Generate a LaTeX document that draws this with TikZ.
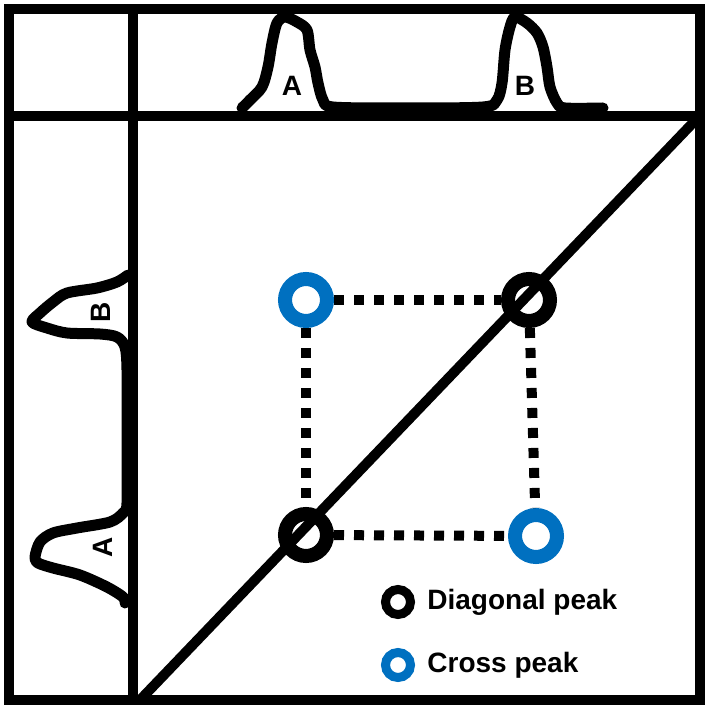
\documentclass[tikz,border=0pt]{standalone}
\usepackage{fontspec}
\setmainfont{Liberation Sans}
\usepackage{xcolor}
\usepackage{tikz}
\usetikzlibrary{positioning,shapes}

\definecolor{crossblue}{RGB}{0,112,192}

\begin{document}
\begin{tikzpicture}[x=0.5pt, y=-0.5pt,
  frameline/.style={line width=5pt},
  peakline/.style={line width=5.5pt, line cap=round, line join=round},
  peaklabel/.style={font=\fontsize{14}{16}\selectfont\bfseries, inner sep=0pt},
  diagring/.style={circle, draw=black, fill=white, line width=7pt, minimum size=21pt, inner sep=0pt},
  crossring/.style={circle, draw=crossblue, fill=white, line width=7pt, minimum size=21pt, inner sep=0pt},
  dotline/.style={line width=5pt, dash pattern=on 5pt off 5pt},
  legring/.style={circle, fill=white, line width=4.5pt, minimum size=12.5pt, inner sep=0pt},
  legtext/.style={font=\fontsize{14}{16}\selectfont\bfseries, inner sep=0pt, anchor=west}]
  \useasboundingbox (0,0) rectangle (709,710);
  % Frame
  \draw[frameline] (9,9.5) rectangle (699.5,700);
  \draw[frameline] (9,116) -- (699.5,116);
  \draw[frameline] (133,9.5) -- (133,700);
  % Spectra
  \draw[peakline] plot[smooth, tension=0.5] coordinates {
    (242,108) (250,100) (262,87) (268,67) (272,43) (277,23) (285,17)
    (297,22) (307,30) (310,50) (315,67) (318,83) (323,100) (333,107)
    (400,108) (483,107) (497,100) (502,83) (505,50) (510,27) (515,17)
    (527,23) (537,33) (543,47) (547,67) (550,87) (557,103) (565,108) (603,108)};
  \draw[peakline] plot[smooth, tension=0.5] coordinates {
    (128,275) (117,282) (97,288) (67,293) (53,302) (40,313) (32,322)
    (47,328) (67,333) (100,334) (117,337) (125,347) (127,370)
    (127,440) (127,503) (123,513) (110,522) (77,528) (53,533) (40,542)
    (35,557) (38,563) (53,568) (80,575) (107,587) (123,597) (125,603)};
  \node[peaklabel] (topA) at (292,86) {A};
  \node[peaklabel] (topB) at (525,86) {B};
  \node[peaklabel, rotate=90] (leftB) at (101,312) {B};
  \node[peaklabel, rotate=90] (leftA) at (103,547) {A};
  % Peaks
  \node[crossring] (cross1) at (306,300) {};
  \node[diagring] (diag2) at (529,300) {};
  \node[diagring] (diag1) at (306,535) {};
  \node[crossring] (cross2) at (536,536) {};
  \draw[dotline] (cross1) -- (diag2);
  \draw[dotline] (diag1) -- (cross2);
  \draw[dotline] (cross1) -- (diag1);
  \draw[dotline] (diag2) -- (cross2);
  % Diagonal
  \coordinate (diagstart) at (140,700);
  \coordinate (diagend) at (699.5,116);
  \draw[frameline] (diagstart) -- (diagend);
  % Legend
  \node[legring, draw=black] (legdiag) at (398,602) {};
  \node[legtext, right=6pt of legdiag] (legdiagtxt) {Diagonal peak};
  \node[legring, draw=crossblue] (legcross) at (398,665) {};
  \node[legtext, right=6pt of legcross] (legcrosstxt) {Cross peak};
\end{tikzpicture}
\end{document}
